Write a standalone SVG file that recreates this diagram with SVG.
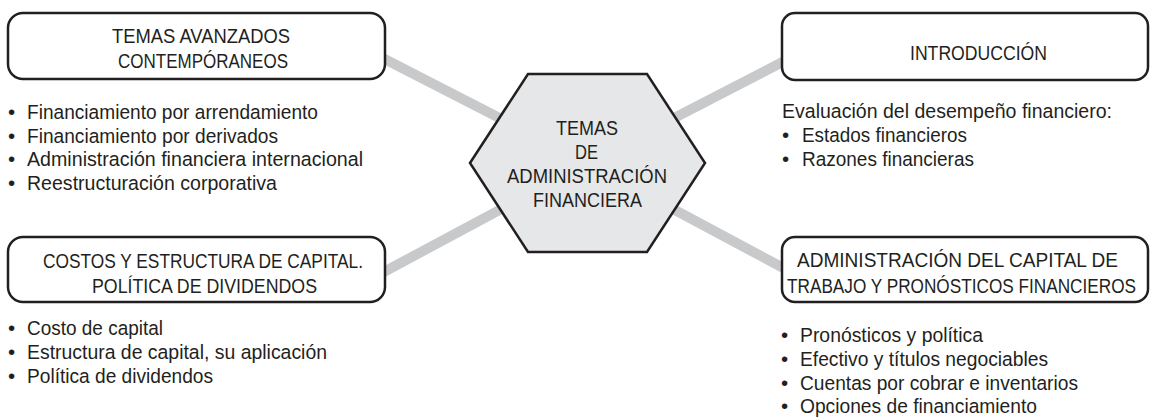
<svg xmlns="http://www.w3.org/2000/svg" width="1150" height="417" viewBox="0 0 1150 417">
<style>
.t{font-family:"Liberation Sans",Arial,sans-serif;font-size:20.5px;fill:#231f20}
.box{fill:#ffffff;stroke:#231f20;stroke-width:2.5}
.hex{fill:#e6e7e8;stroke:#231f20;stroke-width:2.5;stroke-linejoin:miter}
.con{stroke:#c8c9cb;stroke-width:10;fill:none;stroke-linecap:butt}
</style>
<rect width="1150" height="417" fill="#ffffff"/>
<g id="connectors">
<line class="con" x1="587" y1="163" x2="367" y2="50"/>
<line class="con" x1="587" y1="163" x2="367" y2="281"/>
<line class="con" x1="587" y1="163" x2="802" y2="52"/>
<line class="con" x1="587" y1="163" x2="802" y2="278"/>
</g>
<g id="center">
<polygon class="hex" points="470,163 528,74 647,74 705,163 647,252 528,252"/>
<text class="t" x="556" y="135" textLength="62" lengthAdjust="spacingAndGlyphs">TEMAS</text>
<text class="t" x="575" y="159" textLength="23" lengthAdjust="spacingAndGlyphs">DE</text>
<text class="t" x="507" y="183" textLength="160" lengthAdjust="spacingAndGlyphs">ADMINISTRACIÓN</text>
<text class="t" x="533" y="207" textLength="109" lengthAdjust="spacingAndGlyphs">FINANCIERA</text>
</g>
<g id="temas-avanzados">
<rect class="box" x="8" y="13" width="377" height="66" rx="15"/>
<text class="t" x="112" y="43" textLength="178" lengthAdjust="spacingAndGlyphs">TEMAS AVANZADOS</text>
<text class="t" x="118" y="68" textLength="170" lengthAdjust="spacingAndGlyphs">CONTEMPÓRANEOS</text>
<text class="t" y="119"><tspan x="8">•</tspan><tspan x="27" textLength="291" lengthAdjust="spacingAndGlyphs">Financiamiento por arrendamiento</tspan></text>
<text class="t" y="142.7"><tspan x="8">•</tspan><tspan x="27" textLength="251" lengthAdjust="spacingAndGlyphs">Financiamiento por derivados</tspan></text>
<text class="t" y="166.3"><tspan x="8">•</tspan><tspan x="27" textLength="336" lengthAdjust="spacingAndGlyphs">Administración financiera internacional</tspan></text>
<text class="t" y="190"><tspan x="8">•</tspan><tspan x="27" textLength="250" lengthAdjust="spacingAndGlyphs">Reestructuración corporativa</tspan></text>
</g>
<g id="costos-capital">
<rect class="box" x="8" y="237" width="377" height="65" rx="15"/>
<text class="t" x="43" y="268" textLength="320" lengthAdjust="spacingAndGlyphs">COSTOS Y ESTRUCTURA DE CAPITAL.</text>
<text class="t" x="92" y="293" textLength="225" lengthAdjust="spacingAndGlyphs">POLÍTICA DE DIVIDENDOS</text>
<text class="t" y="335"><tspan x="8">•</tspan><tspan x="27" textLength="136" lengthAdjust="spacingAndGlyphs">Costo de capital</tspan></text>
<text class="t" y="359"><tspan x="8">•</tspan><tspan x="27" textLength="300" lengthAdjust="spacingAndGlyphs">Estructura de capital, su aplicación</tspan></text>
<text class="t" y="383"><tspan x="8">•</tspan><tspan x="27" textLength="186" lengthAdjust="spacingAndGlyphs">Política de dividendos</tspan></text>
</g>
<g id="introduccion">
<rect class="box" x="782" y="13" width="366" height="67" rx="13"/>
<text class="t" x="910" y="60" textLength="137" lengthAdjust="spacingAndGlyphs">INTRODUCCIÓN</text>
<text class="t" x="782" y="118" textLength="330" lengthAdjust="spacingAndGlyphs">Evaluación del desempeño financiero:</text>
<text class="t" y="142"><tspan x="782">•</tspan><tspan x="802" textLength="165" lengthAdjust="spacingAndGlyphs">Estados financieros</tspan></text>
<text class="t" y="166"><tspan x="782">•</tspan><tspan x="802" textLength="172" lengthAdjust="spacingAndGlyphs">Razones financieras</tspan></text>
</g>
<g id="capital-trabajo">
<rect class="box" x="782" y="237" width="366" height="65" rx="13"/>
<text class="t" x="797" y="267" textLength="321" lengthAdjust="spacingAndGlyphs">ADMINISTRACIÓN DEL CAPITAL DE</text>
<text class="t" x="787" y="293" textLength="349" lengthAdjust="spacingAndGlyphs">TRABAJO Y PRONÓSTICOS FINANCIEROS</text>
<text class="t" y="342"><tspan x="781">•</tspan><tspan x="800" textLength="183" lengthAdjust="spacingAndGlyphs">Pronósticos y política</tspan></text>
<text class="t" y="366"><tspan x="781">•</tspan><tspan x="800" textLength="248" lengthAdjust="spacingAndGlyphs">Efectivo y títulos negociables</tspan></text>
<text class="t" y="390"><tspan x="781">•</tspan><tspan x="800" textLength="278" lengthAdjust="spacingAndGlyphs">Cuentas por cobrar e inventarios</tspan></text>
<text class="t" y="413"><tspan x="781">•</tspan><tspan x="800" textLength="237" lengthAdjust="spacingAndGlyphs">Opciones de financiamiento</tspan></text>
</g>
</svg>
